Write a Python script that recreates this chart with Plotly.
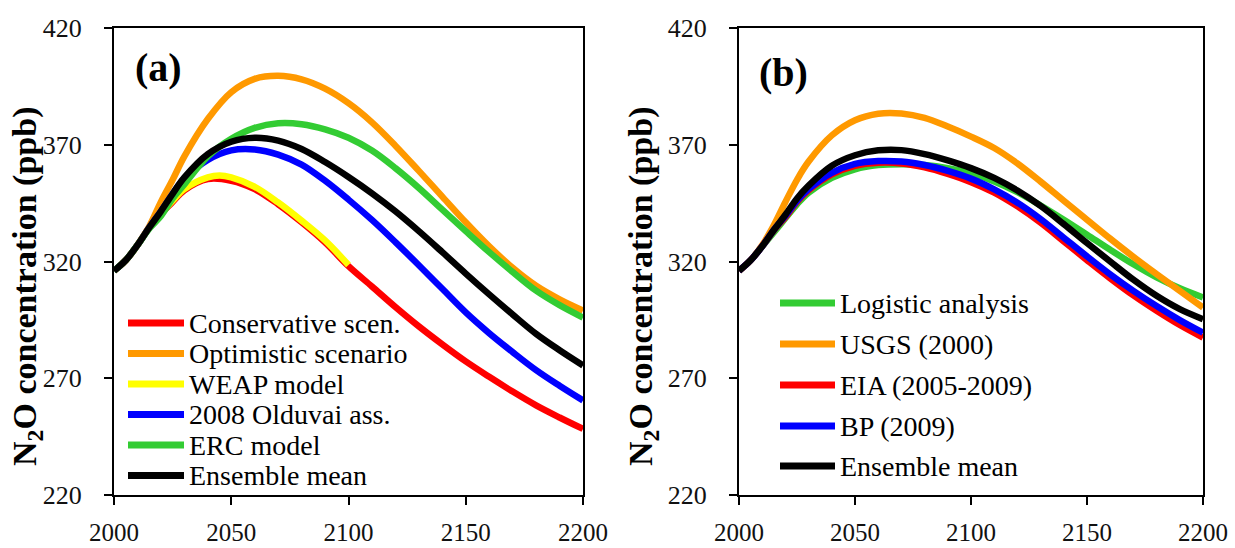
import plotly.graph_objects as go
from plotly.subplots import make_subplots

# ---- Panel (a): scenario projections of N2O concentration (ppb) ----
years_a = [2000, 2005, 2010, 2015, 2020, 2025, 2030, 2040, 2050, 2060, 2070, 2080,
           2090, 2100, 2110, 2120, 2130, 2140, 2150, 2160, 2170, 2180, 2190, 2200]
conservative = [316, 320.5, 327, 334.5, 340.5, 345.5, 350.5, 355.3, 354.6, 351.0, 344.5,
                336.8, 328.2, 318.0, 309.3, 300.5, 292.2, 284.5, 277.2, 270.6, 264.3,
                258.4, 253.2, 248.3]
optimistic = [316, 320.5, 327, 335.0, 345.5, 355.0, 365.0, 381.0, 392.5, 398.2, 399.5,
              398.0, 394.0, 387.8, 379.6, 369.6, 358.8, 347.8, 336.8, 326.5, 317.3,
              309.6, 303.8, 299.0]
years_weap = [2000, 2005, 2010, 2015, 2020, 2025, 2030, 2040, 2045, 2050, 2060, 2070,
              2080, 2090, 2100]
weap = [316, 320.5, 327, 334.5, 340.5, 346.0, 351.0, 356.0, 356.8, 356.0, 352.0, 345.3,
        337.5, 329.0, 318.5]
olduvai = [316, 320.5, 327, 334.5, 341.5, 349.0, 355.5, 363.5, 367.6, 368.0, 365.8,
           361.5, 354.6, 346.5, 337.8, 328.3, 318.4, 308.3, 298.2, 289.3, 281.2,
           273.5, 266.8, 260.5]
erc = [316, 320.5, 327, 334.0, 339.5, 347.0, 353.0, 365.0, 372.5, 377.2, 379.2, 378.8,
       376.6, 373.0, 367.5, 360.0, 351.5, 342.2, 333.0, 324.0, 315.5, 307.5, 301.3,
       296.0]
mean_a = [316, 320.5, 327, 334.5, 341.5, 349.0, 356.0, 366.0, 371.3, 373.0, 371.8,
          368.2, 362.6, 356.2, 349.2, 341.5, 333.0, 324.0, 314.8, 305.9, 297.3, 289.0,
          282.0, 275.5]

# ---- Panel (b): resource-estimate projections ----
years_b = [2000, 2005, 2010, 2015, 2020, 2025, 2030, 2040, 2050, 2060, 2070, 2080,
           2090, 2100, 2110, 2120, 2130, 2140, 2150, 2160, 2170, 2180, 2190, 2200]
logistic = [316, 320.5, 326.5, 332.5, 338.5, 344.5, 349.5, 355.8, 359.5, 361.3, 361.7,
            361.3, 360.0, 357.8, 354.3, 349.7, 344.0, 337.9, 331.5, 325.0, 318.8,
            313.2, 308.5, 304.6]
usgs = [316, 320.5, 327.0, 335.5, 345.5, 355.0, 362.8, 374.0, 380.5, 383.3, 383.4,
        381.5, 377.8, 373.5, 368.6, 362.0, 354.2, 346.0, 337.9, 329.8, 322.0, 314.6,
        307.4, 300.3]
eia = [316, 320.5, 326.5, 333.3, 339.0, 345.5, 350.5, 357.3, 361.0, 362.3, 362.0,
       360.3, 357.5, 354.0, 349.5, 343.6, 336.6, 328.6, 320.6, 312.8, 305.5, 298.9,
       292.8, 287.4]
bp = [316, 320.5, 326.5, 333.5, 339.5, 346.0, 351.0, 358.0, 361.8, 363.0, 362.8, 361.3,
      358.8, 355.5, 350.9, 345.2, 338.2, 330.2, 322.2, 314.5, 307.4, 300.9, 294.9,
      289.5]
mean_b = [316, 320.5, 326.5, 333.5, 340.0, 347.0, 352.5, 361.0, 365.5, 367.6, 367.7,
          366.0, 363.3, 360.0, 355.8, 350.4, 343.8, 336.0, 327.9, 320.0, 312.2, 305.3,
          299.6, 295.3]

x_ticks = [2000, 2050, 2100, 2150, 2200]
y_ticks = [220, 270, 320, 370, 420]

RED, ORANGE, YELLOW = "#FF0000", "#FF9900", "#FFFF00"
BLUE, GREEN, BLACK = "#0000FF", "#33CC33", "#000000"

series_a = [
    ("Conservative scen.", years_a, conservative, RED),
    ("Optimistic scenario", years_a, optimistic, ORANGE),
    ("WEAP model", years_weap, weap, YELLOW),
    ("2008 Olduvai ass.", years_a, olduvai, BLUE),
    ("ERC model", years_a, erc, GREEN),
    ("Ensemble mean", years_a, mean_a, BLACK),
]
series_b = [
    ("Logistic analysis", years_b, logistic, GREEN),
    ("USGS (2000)", years_b, usgs, ORANGE),
    ("EIA (2005-2009)", years_b, eia, RED),
    ("BP (2009)", years_b, bp, BLUE),
    ("Ensemble mean", years_b, mean_b, BLACK),
]

FONT = "Liberation Serif"
W, H = 1235, 548

fig = make_subplots(rows=1, cols=2)

for col, series in ((1, series_a), (2, series_b)):
    for name, xs, ys, color in series:
        fig.add_trace(
            go.Scatter(x=xs, y=ys, name=name, mode="lines",
                       line=dict(color=color, width=6.5, shape="spline", smoothing=1.0),
                       showlegend=False),
            row=1, col=col,
        )

# plot-area placement (pixels) for each panel
px_a = (114, 583)
px_b = (739, 1203)
py = (28, 495)

def xdom(p):
    return [p[0] / W, p[1] / W]

ydom = [1 - py[1] / H, 1 - py[0] / H]

axis_common = dict(showline=True, linecolor="black", linewidth=2, mirror=True,
                   showgrid=False, zeroline=False, ticks="outside", ticklen=8,
                   tickwidth=2, tickcolor="black", automargin=False)

for i, p in ((1, px_a), (2, px_b)):
    xa = "xaxis" if i == 1 else "xaxis2"
    ya = "yaxis" if i == 1 else "yaxis2"
    fig.layout[xa].update(domain=xdom(p), range=[2000, 2200], tickvals=x_ticks,
                          ticklabelstandoff=6,
                          tickfont=dict(family=FONT, size=25, color="#111111"),
                          **axis_common)
    fig.layout[ya].update(domain=ydom, range=[220, 420], tickvals=y_ticks,
                          ticklabelstandoff=17,
                          tickfont=dict(family=FONT, size=26, color="#111111"),
                          **axis_common)

annotations = []
shapes = []

# y-axis titles
for xc in (27, 643):
    annotations.append(dict(
        text="<b>N<sub>2</sub>O concentration (ppb)</b>", textangle=-90,
        x=xc / W, y=1 - 287 / H, xref="paper", yref="paper",
        xanchor="center", yanchor="middle", showarrow=False,
        font=dict(family=FONT, size=34, color="black")))

# panel labels
for label, xc, yc in (("(a)", 158, 67), ("(b)", 783, 72)):
    annotations.append(dict(
        text="<b>" + label + "</b>", x=xc / W, y=1 - yc / H, xref="paper", yref="paper",
        xanchor="center", yanchor="middle", showarrow=False,
        font=dict(family=FONT, size=40, color="black")))

# legend key: line sample + label for each series
def add_key(series, x0, x1, y_rows):
    for (name, _, _, color), yr in zip(series, y_rows):
        shapes.append(dict(type="line", xref="paper", yref="paper",
                           x0=x0 / W, x1=x1 / W, y0=1 - yr / H, y1=1 - yr / H,
                           line=dict(color=color, width=7)))
        annotations.append(dict(
            text=name, x=(x1 + 3) / W, y=1 - yr / H, xref="paper", yref="paper",
            xanchor="left", yanchor="middle", showarrow=False,
            font=dict(family=FONT, size=28, color="black")))

add_key(series_a, 128, 184, [323, 353.5, 384, 414.5, 445, 475.5])
add_key(series_b, 780, 835, [303, 344, 385, 426, 466])

fig.update_layout(
    width=W, height=H,
    margin=dict(l=0, r=0, t=0, b=0),
    paper_bgcolor="white", plot_bgcolor="white",
    annotations=annotations, shapes=shapes,
    showlegend=False,
)

fig.write_html("out.html")
